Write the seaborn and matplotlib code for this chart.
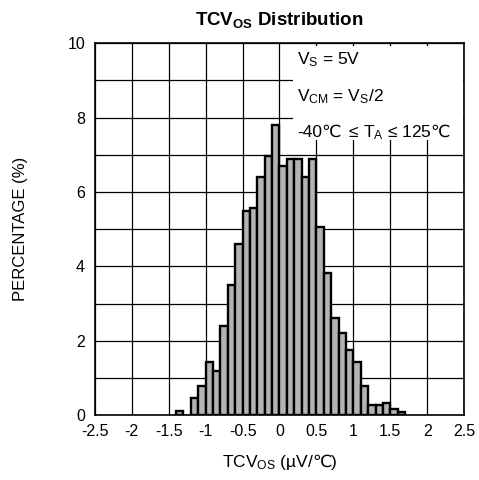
import numpy as np
import pandas as pd
import seaborn as sns
import matplotlib
matplotlib.use("Agg")
import matplotlib.pyplot as plt
from matplotlib.patches import Rectangle

# bin centres (uV/C) and share of units in each 0.1 bin (%)
bin_center = [-1.35, -1.15, -1.05, -0.95, -0.85, -0.75, -0.65, -0.55, -0.45, -0.35,
              -0.25, -0.15, -0.05, 0.05, 0.15, 0.25, 0.35, 0.45, 0.55, 0.65,
              0.75, 0.85, 0.95, 1.05, 1.15, 1.25, 1.35, 1.45, 1.55, 1.65]
percentage = [0.12, 0.47, 0.78, 1.42, 1.19, 2.39, 3.49, 4.59, 5.48, 5.56,
              6.39, 6.97, 7.81, 6.71, 6.90, 6.90, 6.39, 6.90, 5.05, 3.81,
              2.60, 2.20, 1.75, 1.42, 0.79, 0.27, 0.27, 0.33, 0.18, 0.09]

x_ticks = [-2.5, -2, -1.5, -1, -0.5, 0, 0.5, 1, 1.5, 2, 2.5]
x_tick_labels = ["-2.5", "-2", "-1.5", "-1", "-0.5", "0", "0.5", "1", "1.5", "2", "2.5"]
y_ticks = [0, 2, 4, 6, 8, 10]

df = pd.DataFrame({"tcvos": bin_center, "pct": percentage})

sns.set_style("white")
plt.rcParams["font.family"] = ["Liberation Sans", "DejaVu Sans"]
plt.rcParams["mathtext.fontset"] = "custom"
plt.rcParams["mathtext.rm"] = "Liberation Sans"
plt.rcParams["mathtext.default"] = "regular"
for k in ["text.color", "axes.labelcolor", "xtick.color", "ytick.color"]:
    plt.rcParams[k] = "black"

fig = plt.figure(figsize=(4.79, 4.80), dpi=100)
ax = fig.add_axes([0.198, 0.135, 0.771, 0.775])

sns.histplot(data=df, x="tcvos", weights="pct", binwidth=0.1, binrange=(-1.4, 1.7),
             color="#b3b3b3", alpha=1, edgecolor="black", linewidth=1.7, ax=ax, zorder=3)
# drop the empty bin so no stub is drawn on the baseline
for p in list(ax.patches):
    if p.get_height() == 0:
        p.remove()

ax.set_xlim(-2.5, 2.5)
ax.set_ylim(0, 10)
ax.set_xticks(x_ticks)
ax.set_xticklabels(x_tick_labels)
ax.set_yticks(y_ticks)
ax.set_yticks(np.arange(0, 11, 1), minor=True)
ax.grid(True, which="both", color="black", linewidth=0.9, zorder=0)
ax.set_axisbelow(True)
ax.tick_params(axis="both", which="both", length=0, labelsize=11.5)
ax.tick_params(axis="x", pad=6)
ax.tick_params(axis="y", pad=7)
for s in ax.spines.values():
    s.set_color("black")
    s.set_linewidth(1.2)
ax.set_xlabel("")


def chain(first, parts, coords, size):
    # place text pieces one after another on the same baseline
    # (the C-degree sign is not in Liberation Sans, so it is kept out of mathtext)
    prev = first
    y = first.get_position()[1]
    for p in parts:
        prev = ax.annotate(p, xy=(1, y), xycoords=(prev, coords), xytext=(-1, 0),
                           textcoords="offset points", ha="left", va="baseline",
                           fontsize=size, zorder=2, annotation_clip=False)
    return prev


# white patch behind the test conditions
ax.add_patch(Rectangle((0.18, 7.4), 2.31, 2.52, facecolor="white", edgecolor="none", zorder=1))
cond_size = 12.5
ax.text(0.24, 9.42, "V$_S$ = 5V", fontsize=cond_size, va="baseline", ha="left", zorder=2)
ax.text(0.24, 8.45, "V$_{CM}$ = V$_S$/2", fontsize=cond_size, va="baseline", ha="left", zorder=2)
t = ax.text(0.24, 7.48, "-40", fontsize=cond_size, va="baseline", ha="left", zorder=2)
chain(t, ["℃", "  ≤ T$_A$ ≤ 125", "℃"], "data", cond_size)

ax.set_title("TCV$_{OS}$ Distribution", fontsize=13.5, fontweight="bold", pad=13)
ax.set_ylabel("PERCENTAGE (%)", fontsize=12, labelpad=28)

xl = fig.text(314 / 479, 1 - 467 / 480, "TCV$_{OS}$ (µV/", fontsize=12.5, ha="right", va="baseline")
chain(xl, ["℃", ")"], "figure fraction", 12.5)

fig.savefig("out.png", dpi=100)
